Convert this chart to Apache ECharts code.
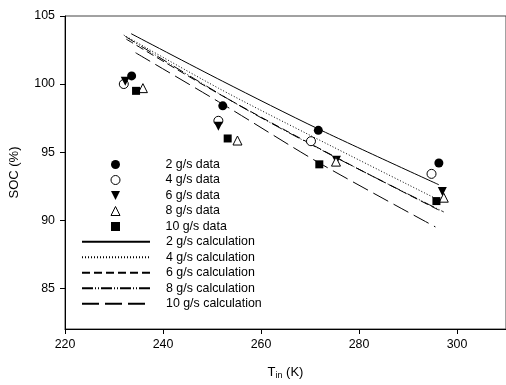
<!DOCTYPE html>
<html>
<head>
<meta charset="utf-8">
<script src="https://cdn.jsdelivr.net/npm/echarts@6/dist/echarts.min.js"></script>
<style>
  html, body { margin: 0; padding: 0; background: #fff; }
  #chart { width: 506px; height: 385px; }
</style>
</head>
<body>
<div id="chart"></div>
<script>
// measured points: [T_in (K), SOC (%)]
const data2 = [[233.6, 100.6], [252.2, 98.4], [271.7, 96.6], [296.3, 94.2]]
const data4 = [[232.0, 100.0], [251.3, 97.3], [270.2, 95.8], [294.8, 93.4]]
const data6 = [[232.3, 100.2], [251.3, 96.9], [275.4, 94.4], [297.0, 92.1]]
const data8 = [[235.9, 99.7], [255.2, 95.85], [275.3, 94.3], [297.3, 91.65]]
const data10 = [[234.5, 99.5], [253.2, 96.0], [271.9, 94.1], [295.8, 91.4]]

// calculated curves
const calc2 = [[233.5, 103.7], [252.2, 100.2], [271.7, 96.7], [296.3, 92.6]]
const calc4 = [[232.0, 103.6], [251.3, 99.7], [270.2, 96.2], [296.7, 91.4]]
const calc6 = [[232.5, 103.3], [251.3, 99.3], [275.4, 94.6], [296.5, 90.7]]
const calc8 = [[232.3, 103.5], [255.2, 98.5], [275.3, 94.6], [297.3, 90.6]]
const calc10 = [[234.4, 102.3], [253.2, 98.3], [271.9, 94.2], [295.6, 89.5]]

const dataNames = ["2 g/s data", "4 g/s data", "6 g/s data", "8 g/s data", "10 g/s data"]
const calcNames = ["2 g/s calculation", "4 g/s calculation", "6 g/s calculation", "8 g/s calculation", "10 g/s calculation"]

const xTicks = [220, 240, 260, 280, 300]
const yTicks = [85, 90, 95, 100, 105]

const font = "'Liberation Sans', Arial, sans-serif"
const chart = echarts.init(document.getElementById("chart"), null, { renderer: "canvas" })

const dataSeries = (name, data, symbol, filled, rotate) => ({
  name,
  type: "scatter",
  data,
  symbol,
  symbolSize: symbol === "rect" ? 8 : 9,
  symbolRotate: rotate || 0,
  z: 5,
  itemStyle: {
    color: filled ? "#000" : "#fff",
    borderColor: "#000",
    borderWidth: filled ? 0 : 1,
    opacity: 1
  }
})

const calcSeries = (name, data, dash) => ({
  name,
  type: "line",
  data,
  symbol: "none",
  smooth: 0.3,
  z: 3,
  itemStyle: { color: "#000" },
  lineStyle: { color: "#000", width: 1, type: dash }
})

const openIcon = { color: "#fff", borderColor: "#000", borderWidth: 1 }

chart.setOption({
  animation: false,
  grid: {
    left: 65,
    right: -3,
    top: 16,
    bottom: 53,
    show: true,
    borderColor: "#444",
    borderWidth: 1
  },
  legend: [
    {
      orient: "vertical",
      left: 110.5,
      top: 158.5,
      padding: 0,
      itemWidth: 9,
      itemHeight: 9,
      itemGap: 3.5,
      textStyle: { fontFamily: font, fontSize: 12.4, color: "#000", padding: [0, 0, 0, 40.5] },
      data: [
        { name: dataNames[0] },
        { name: dataNames[1], itemStyle: openIcon },
        { name: dataNames[2], icon: "path://M0,0L10,0L5,10Z" },
        { name: dataNames[3], itemStyle: openIcon },
        { name: dataNames[4] }
      ]
    },
    {
      orient: "vertical",
      left: 81,
      top: 235.7,
      padding: 0,
      itemWidth: 68,
      itemHeight: 9,
      itemGap: 3.5,
      itemStyle: { color: "transparent", borderWidth: 0, opacity: 0 },
      textStyle: { fontFamily: font, fontSize: 12.4, color: "#000", padding: [0, 0, 0, 11] },
      data: calcNames
    }
  ],
  xAxis: {
    type: "value",
    min: 220,
    max: 310,
    interval: 20,
    name: "{t|T}{s|in}{t| (K)}",
    nameLocation: "middle",
    nameGap: 35,
    nameTextStyle: {
      rich: {
        t: { fontFamily: font, fontSize: 13, color: "#000" },
        s: { fontFamily: font, fontSize: 9, color: "#000", verticalAlign: "bottom", padding: [7, 0, 0, 0] }
      }
    },
    splitLine: { show: false },
    axisLine: { lineStyle: { color: "#000", width: 1 } },
    axisTick: { customValues: xTicks, length: 5, lineStyle: { color: "#000" } },
    axisLabel: { customValues: xTicks, margin: 10, fontFamily: font, fontSize: 12.4, color: "#000" }
  },
  yAxis: {
    type: "value",
    min: 82,
    max: 105,
    name: "SOC (%)",
    nameLocation: "middle",
    nameGap: 44,
    nameTextStyle: { fontFamily: font, fontSize: 13, color: "#000" },
    splitLine: { show: false },
    axisLine: { show: true, lineStyle: { color: "#000", width: 1 } },
    axisTick: { show: true, customValues: yTicks, length: 5, lineStyle: { color: "#000" } },
    axisLabel: { customValues: yTicks, margin: 10, fontFamily: font, fontSize: 12.4, color: "#000" }
  },
  series: [
    dataSeries(dataNames[0], data2, "circle", true),
    dataSeries(dataNames[1], data4, "circle", false),
    dataSeries(dataNames[2], data6, "triangle", true, 180),
    dataSeries(dataNames[3], data8, "triangle", false),
    dataSeries(dataNames[4], data10, "rect", true),
    calcSeries(calcNames[0], calc2, "solid"),
    calcSeries(calcNames[1], calc4, [1, 2]),
    calcSeries(calcNames[2], calc6, [8, 4]),
    calcSeries(calcNames[3], calc8, [11, 2, 1, 2, 1, 2]),
    calcSeries(calcNames[4], calc10, [17, 6])
  ]
})
</script>
</body>
</html>
